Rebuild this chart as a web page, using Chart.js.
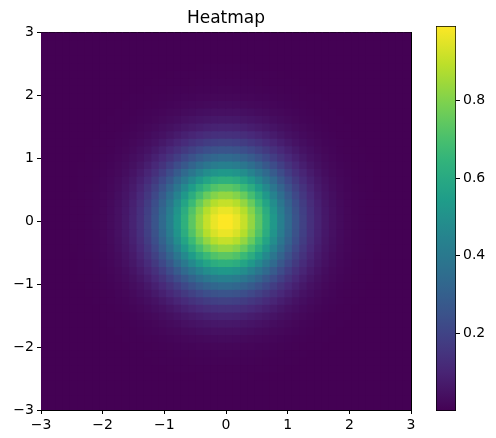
<!DOCTYPE html>
<html>
<head>
<meta charset="utf-8">
<script src="https://cdn.jsdelivr.net/npm/chart.js@4.4.0/dist/chart.umd.min.js"></script>
<style>
  html, body { margin: 0; padding: 0; background: #fff; }
  #wrap { position: relative; width: 496px; height: 438px; }
  #heat { position: absolute; left: 0; top: 0; }
  #cbar { position: absolute; left: 420px; top: 0; }
</style>
</head>
<body>
<div id="wrap">
  <canvas id="heat" width="430" height="438"></canvas>
  <canvas id="cbar" width="76" height="438"></canvas>
</div>
<script>
// Data
const chartTitle = "Heatmap";
const extent = [-3, 3, -3, 3]; // xmin, xmax, ymin, ymax
// intensity profile across the 50 cells (same along x and y, surface is separable)
const profile = [
  0.0001, 0.0003, 0.0005, 0.0010, 0.0018, 0.0033, 0.0059, 0.0101, 0.0169, 0.0273,
  0.0428, 0.0651, 0.0961, 0.1377, 0.1914, 0.2584, 0.3385, 0.4302, 0.5308, 0.6354,
  0.7381, 0.8322, 0.9105, 0.9668, 0.9963, 0.9963, 0.9668, 0.9105, 0.8322, 0.7381,
  0.6354, 0.5308, 0.4302, 0.3385, 0.2584, 0.1914, 0.1377, 0.0961, 0.0651, 0.0428,
  0.0273, 0.0169, 0.0101, 0.0059, 0.0033, 0.0018, 0.0010, 0.0005, 0.0003, 0.0001
];
const xTicks = [-3, -2, -1, 0, 1, 2, 3];
const yTicks = [-3, -2, -1, 0, 1, 2, 3];
const cbarTicks = [0.2, 0.4, 0.6, 0.8];

// viridis colour stops
const viridis = ["#440154", "#482878", "#3e4a89", "#31688e", "#26828e",
                 "#1f9e89", "#35b779", "#6ece58", "#b5de2b", "#fde725"];

const n = profile.length;
const cellW = (extent[1] - extent[0]) / n;
const cellH = (extent[3] - extent[2]) / n;
const cells = [];
for (let j = 0; j < n; j++) {
  for (let i = 0; i < n; i++) {
    cells.push({
      x: extent[0] + cellW * (i + 0.5),
      y: extent[2] + cellH * (j + 0.5),
      v: profile[i] * profile[j]
    });
  }
}
const values = cells.map(c => c.v);
const vmin = Math.min(...values);
const vmax = Math.max(...values);

const rgb = viridis.map(h => [1, 3, 5].map(k => parseInt(h.substr(k, 2), 16)));
function cmap(t) {
  t = Math.max(0, Math.min(1, t));
  const p = t * (rgb.length - 1);
  const k = Math.min(Math.floor(p), rgb.length - 2);
  const f = p - k;
  const c = rgb[k].map((a, m) => Math.round(a + (rgb[k + 1][m] - a) * f));
  return `rgb(${c[0]},${c[1]},${c[2]})`;
}

const minus = v => String(v).replace("-", "\u2212");

Chart.defaults.font.family = "'DejaVu Sans', sans-serif";
Chart.defaults.font.size = 14;
Chart.defaults.color = "#000";

const axisBase = {
  grid: { drawOnChartArea: false, drawTicks: true, tickLength: 4, color: "#000", tickWidth: 1 },
  border: { display: true, color: "#000", width: 1 },
  ticks: { padding: 3, color: "#000", callback: v => minus(v), maxRotation: 0 }
};
const frameAxis = {
  display: true,
  grid: { drawOnChartArea: false, drawTicks: false },
  border: { display: true, color: "#000", width: 1 },
  ticks: { display: false }
};

new Chart(document.getElementById("heat"), {
  type: "scatter",
  data: {
    datasets: [{
      data: cells,
      pointStyle: "rect",
      borderWidth: 0,
      backgroundColor: ctx => ctx.raw ? cmap((ctx.raw.v - vmin) / (vmax - vmin)) : "#000",
      pointRadius: ctx => {
        const s = ctx.chart.scales;
        if (!s.x || !s.y) return 3;
        const w = Math.abs(s.x.getPixelForValue(cellW) - s.x.getPixelForValue(0));
        const h = Math.abs(s.y.getPixelForValue(0) - s.y.getPixelForValue(cellH));
        if (!isFinite(w) || !isFinite(h)) return 3;
        return (Math.max(w, h) / 2 + 0.6) / Math.SQRT1_2;
      },
      pointHoverRadius: 0,
      clip: 0
    }]
  },
  options: {
    responsive: false,
    animation: false,
    events: [],
    layout: { padding: { left: 0, right: 19, top: 0, bottom: 0 } },
    plugins: {
      legend: { display: false },
      tooltip: { enabled: false },
      title: {
        display: true,
        text: chartTitle,
        fullSize: false,
        color: "#000",
        font: { size: 17, weight: "normal" },
        padding: { top: 8, bottom: 4 }
      }
    },
    scales: {
      x: {
        ...axisBase,
        type: "linear", position: "bottom", min: extent[0], max: extent[1],
        afterBuildTicks: a => { a.ticks = xTicks.map(v => ({ value: v })); },
        afterFit: a => { a.height = 28; }
      },
      y: {
        ...axisBase,
        type: "linear", position: "left", min: extent[2], max: extent[3],
        afterBuildTicks: a => { a.ticks = yTicks.map(v => ({ value: v })); },
        afterFit: a => { a.width = 41; }
      },
      xTop: { ...frameAxis, type: "linear", position: "top", min: extent[0], max: extent[1],
        afterFit: a => { a.height = 0; } },
      yRight: { ...frameAxis, type: "linear", position: "right", min: extent[2], max: extent[3],
        afterFit: a => { a.width = 0; } }
    }
  }
});

// colour bar
new Chart(document.getElementById("cbar"), {
  type: "bar",
  data: {
    labels: [""],
    datasets: [{
      data: [[vmin, vmax]],
      barPercentage: 1,
      categoryPercentage: 1,
      borderWidth: 1,
      borderColor: "#000",
      borderSkipped: false,
      backgroundColor: ctx => {
        const y = ctx.chart.scales.y;
        if (!y) return "#440154";
        const y0 = y.getPixelForValue(vmin), y1 = y.getPixelForValue(vmax);
        if (!isFinite(y0) || !isFinite(y1) || y0 === y1) return "#440154";
        const g = ctx.chart.ctx.createLinearGradient(0, y0, 0, y1);
        for (let k = 0; k <= 20; k++) g.addColorStop(k / 20, cmap(k / 20));
        return g;
      }
    }]
  },
  options: {
    responsive: false,
    animation: false,
    events: [],
    layout: { padding: { left: 16, right: 0, top: 26, bottom: 27 } },
    plugins: { legend: { display: false }, tooltip: { enabled: false } },
    scales: {
      x: { display: false, offset: true },
      y: {
        position: "right",
        min: vmin, max: vmax,
        grid: { drawOnChartArea: false, drawTicks: true, tickLength: 4, color: "#000" },
        border: { display: false },
        ticks: { padding: 3, color: "#000", callback: v => v.toFixed(1) },
        afterBuildTicks: a => { a.ticks = cbarTicks.map(v => ({ value: v })); },
        afterFit: a => { a.width = 40; }
      }
    }
  }
});
</script>
</body>
</html>
